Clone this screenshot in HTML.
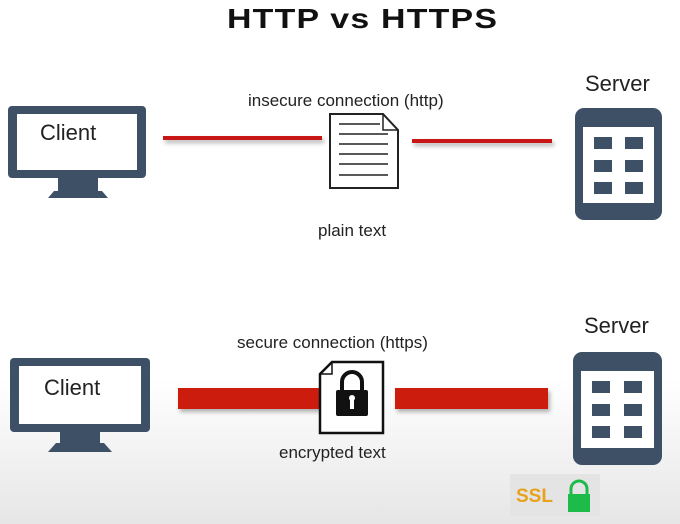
<!DOCTYPE html>
<html><head><meta charset="utf-8"><style>
body{margin:0;width:680px;height:524px;overflow:hidden;background:linear-gradient(#fff 0,#fff 380px,#e6e6e6 524px);font-family:"Liberation Sans",sans-serif;}
.t{position:absolute;white-space:nowrap;color:#222}
</style></head><body>
<svg width="680" height="524" style="position:absolute;left:0;top:0">
<defs><filter id="s" x="-10%" y="-100%" width="120%" height="400%"><feDropShadow dx="2" dy="3" stdDeviation="2" flood-opacity="0.3"/></filter></defs>
<rect x="8" y="106" width="138" height="72" rx="4" fill="#3d5066"/>
<rect x="17" y="114" width="120" height="56" fill="#fff"/>
<rect x="58" y="178" width="40" height="14" fill="#3d5066"/>
<path d="M48 198 L54 191 L102 191 L108 198 Z" fill="#3d5066"/>
<rect x="163" y="136" width="159" height="4" fill="#c81818" filter="url(#s)"/>
<rect x="412" y="139" width="140" height="4" fill="#c81818" filter="url(#s)"/>
<path d="M330 114 L383 114 L398 130 L398 188 L330 188 Z" fill="#fff" stroke="#222" stroke-width="2"/>
<path d="M383 114 L383 130 L398 130" fill="none" stroke="#222" stroke-width="1.5"/>
<g stroke="#222" stroke-width="1.5"><line x1="339" y1="124" x2="380" y2="124"/><line x1="339" y1="134" x2="388" y2="134"/><line x1="339" y1="144" x2="388" y2="144"/><line x1="339" y1="154" x2="388" y2="154"/><line x1="339" y1="164" x2="388" y2="164"/><line x1="339" y1="175" x2="388" y2="175"/></g>
<rect x="575" y="108" width="87" height="112" rx="9" fill="#3d5066"/>
<rect x="583" y="127" width="71" height="76" fill="#fff"/>
<g fill="#3d5066"><rect x="594" y="137" width="18" height="12"/><rect x="625" y="137" width="18" height="12"/><rect x="594" y="160" width="18" height="12"/><rect x="625" y="160" width="18" height="12"/><rect x="594" y="182" width="18" height="12"/><rect x="625" y="182" width="18" height="12"/></g>
<rect x="10" y="358" width="140" height="74" rx="4" fill="#3d5066"/>
<rect x="19" y="366" width="122" height="58" fill="#fff"/>
<rect x="60" y="432" width="40" height="12" fill="#3d5066"/>
<path d="M48 452 L56 443 L104 443 L112 452 Z" fill="#3d5066"/>
<rect x="178" y="388" width="142" height="21" fill="#cc1a10" filter="url(#s)"/>
<rect x="395" y="388" width="153" height="21" fill="#cc1a10" filter="url(#s)"/>
<path d="M332 362 L383 362 L383 433 L320 433 L320 374 Z" fill="#fff" stroke="#111" stroke-width="2.5"/>
<path d="M320 374 L332 374 L332 362" fill="none" stroke="#111" stroke-width="1.5"/>
<path d="M342 391 L342 382 A10 10 0 0 1 362 382 L362 391" fill="none" stroke="#111" stroke-width="4"/>
<rect x="336" y="390" width="32" height="26" rx="2" fill="#111"/>
<rect x="350" y="398" width="4" height="11" fill="#fff"/><circle cx="352" cy="398" r="3" fill="#fff"/>
<rect x="573" y="352" width="89" height="113" rx="9" fill="#3d5066"/>
<rect x="581" y="371" width="73" height="77" fill="#fff"/>
<g fill="#3d5066"><rect x="592" y="381" width="18" height="12"/><rect x="624" y="381" width="18" height="12"/><rect x="592" y="404" width="18" height="12"/><rect x="624" y="404" width="18" height="12"/><rect x="592" y="426" width="18" height="12"/><rect x="624" y="426" width="18" height="12"/></g>
<rect x="510" y="474" width="90" height="42" fill="#e4e4e4"/>
<path d="M571 495 L571 489 A8 8 0 0 1 587 489 L587 495" fill="none" stroke="#1dbb4a" stroke-width="3"/>
<rect x="568" y="494" width="22" height="18" fill="#1dbb4a"/>
</svg>
<div class="t" style="left:227px;top:3px;font-size:28px;font-weight:bold;color:#111;letter-spacing:1px;transform:scaleX(1.21);transform-origin:0 0">HTTP vs HTTPS</div>
<div class="t" style="left:40px;top:120px;font-size:22px">Client</div>
<div class="t" style="left:44px;top:375px;font-size:22px">Client</div>
<div class="t" style="left:585px;top:71px;font-size:22px">Server</div>
<div class="t" style="left:584px;top:313px;font-size:22px">Server</div>
<div class="t" style="left:248px;top:91px;font-size:17px">insecure connection (http)</div>
<div class="t" style="left:318px;top:221px;font-size:17px">plain text</div>
<div class="t" style="left:237px;top:333px;font-size:17px">secure connection (https)</div>
<div class="t" style="left:279px;top:443px;font-size:17px">encrypted text</div>
<div class="t" style="left:516px;top:486px;font-size:19px;font-weight:bold;color:#e8a21c">SSL</div>
</body></html>
